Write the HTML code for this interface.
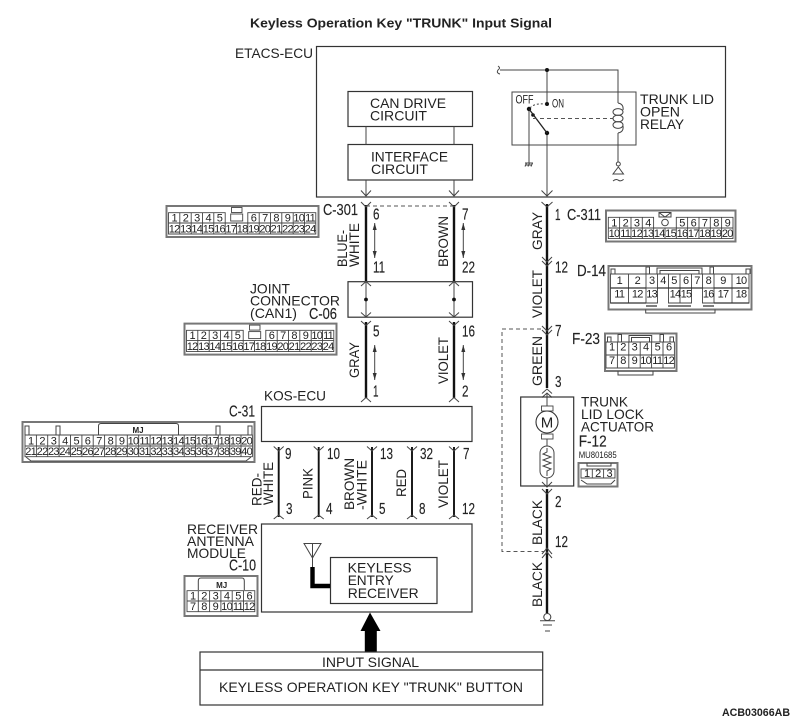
<!DOCTYPE html>
<html lang="en"><head><meta charset="utf-8"><title>Keyless Operation Key "TRUNK" Input Signal</title>
<style>
html,body{margin:0;padding:0;background:#fff}
svg{display:block}
text{font-family:"Liberation Sans",sans-serif;fill:#222}
.l{font-size:14px}
.p{font-size:15.5px;stroke:#222;stroke-width:.15}
.n{font-size:11px;text-anchor:middle;letter-spacing:-.7px}
.b{fill:none;stroke:#333;stroke-width:1.2}
.t{fill:none;stroke:#444;stroke-width:1}
.w{fill:none;stroke:#111;stroke-width:2.4}
.d{fill:none;stroke:#555;stroke-width:1;stroke-dasharray:4 3}
.o{fill:#fff;stroke:#777;stroke-width:2}
.g{fill:#fff;stroke:#444;stroke-width:.9}
</style></head><body>
<svg width="800" height="720" viewBox="0 0 800 720" xmlns="http://www.w3.org/2000/svg">
<defs><marker id="a" viewBox="0 0 8 8" refX="7" refY="4" markerWidth="8" markerHeight="8" orient="auto-start-reverse" markerUnits="userSpaceOnUse"><path d="M0 2L7 4L0 6z" fill="#333"/></marker></defs>
<text x="250" y="27.5" font-size="13" font-weight="700" textLength="302" lengthAdjust="spacingAndGlyphs">Keyless Operation Key "TRUNK" Input Signal</text>
<text class="l" x="235" y="58" textLength="78" lengthAdjust="spacingAndGlyphs">ETACS-ECU</text>

<!-- boxes -->
<rect class="b" x="316.5" y="46.5" width="409" height="150.5"/>
<rect class="b" x="348" y="91.5" width="124.5" height="35"/>
<rect class="b" x="348" y="144.5" width="124.5" height="35.5"/>
<path class="t" d="M366 126.5V144.5M454 126.5V144.5M366 180V196M454 180V196"/>
<g class="l">
<text x="370" y="108" textLength="76" lengthAdjust="spacingAndGlyphs">CAN DRIVE</text>
<text x="370" y="120.5" textLength="57" lengthAdjust="spacingAndGlyphs">CIRCUIT</text>
<text x="371" y="161.5" textLength="77" lengthAdjust="spacingAndGlyphs">INTERFACE</text>
<text x="371" y="174" textLength="57" lengthAdjust="spacingAndGlyphs">CIRCUIT</text>
</g>

<!-- relay -->
<path class="t" d="M500 70H618V103M618 133V162M547 70V104M547 133V196M529 109V163"/>
<path class="t" d="M498 66q3 2 0 4q-2 3 2 4"/>
<rect class="t" x="512" y="92" width="124" height="53"/>
<circle cx="547" cy="70" r="2" fill="#111"/><circle cx="547" cy="104" r="2" fill="#111"/><circle cx="529" cy="109" r="2.2" fill="#111"/><circle cx="547" cy="133" r="2.2" fill="#111"/><circle cx="533" cy="115" r="1.8" fill="#111"/>
<path d="M529 109L547 133" fill="none" stroke="#222" stroke-width="1.3"/>
<path d="M530 108q4-5 15-4" fill="none" stroke="#444" stroke-dasharray="2 2"/>
<path class="d" d="M533 118.5H613"/>
<ellipse class="t" cx="618" cy="112" rx="5" ry="3.4"/><ellipse class="t" cx="618" cy="118.5" rx="5" ry="3.4"/><ellipse class="t" cx="618" cy="125" rx="5" ry="3.4"/>
<path class="t" d="M618 103Q624 104 623 110M618 133Q624 132 623 126"/>
<path class="t" d="M525 163H533M526 165H532M526.5 163l-1.5 3.5M529.5 163l-1.5 3.5M532.5 163l-1.5 3.5"/>
<circle class="t" cx="618.3" cy="164" r="2"/>
<path class="t" d="M618.3 167L613 174H623.5ZM613 181q3-2.5 5.3-.8t5.3-.8"/>
<text x="515.5" y="103.3" font-size="12" textLength="18" lengthAdjust="spacingAndGlyphs">OFF</text>
<text x="552" y="107.7" font-size="12" textLength="12" lengthAdjust="spacingAndGlyphs">ON</text>
<g class="l">
<text x="640" y="104" textLength="74" lengthAdjust="spacingAndGlyphs">TRUNK LID</text>
<text x="640" y="116.7" textLength="40" lengthAdjust="spacingAndGlyphs">OPEN</text>
<text x="640" y="129" textLength="44" lengthAdjust="spacingAndGlyphs">RELAY</text>
</g>

<!-- joint & KOS & receiver -->
<rect class="b" x="348" y="281.7" width="124.5" height="35.5"/>
<path class="t" d="M366 282V317M454 282V317"/>
<circle cx="366" cy="299.5" r="1.9" fill="#111"/><circle cx="454" cy="299.5" r="1.9" fill="#111"/>
<rect class="b" x="261.5" y="406.5" width="210.5" height="35"/>
<rect class="b" x="261.5" y="524" width="210.5" height="88"/>
<rect class="b" x="330.5" y="557.5" width="106.5" height="46"/>
<path class="t" d="M304 543.5H321L312.5 558ZM312.5 543.5V567"/>
<path d="M312.5 567V586H330" fill="none" stroke="#000" stroke-width="4.4"/>
<g class="l">
<text x="347.7" y="572.7" textLength="64" lengthAdjust="spacingAndGlyphs">KEYLESS</text>
<text x="347.7" y="585" textLength="46" lengthAdjust="spacingAndGlyphs">ENTRY</text>
<text x="347.7" y="598" textLength="71" lengthAdjust="spacingAndGlyphs">RECEIVER</text>
<text x="250" y="293.3" textLength="40" lengthAdjust="spacingAndGlyphs">JOINT</text>
<text x="250" y="305.7" textLength="90" lengthAdjust="spacingAndGlyphs">CONNECTOR</text>
<text x="250" y="318" textLength="47" lengthAdjust="spacingAndGlyphs">(CAN1)</text>
<text x="264" y="400.7" textLength="62" lengthAdjust="spacingAndGlyphs">KOS-ECU</text>
<text x="187" y="534" textLength="71" lengthAdjust="spacingAndGlyphs">RECEIVER</text>
<text x="187" y="546" textLength="67" lengthAdjust="spacingAndGlyphs">ANTENNA</text>
<text x="187" y="558" textLength="59" lengthAdjust="spacingAndGlyphs">MODULE</text>
</g>

<!-- thick wires -->
<path class="w" d="M366 205V281M454 205V281M366 322V398M454 322V398M547 204V388M547 489V613"/>
<path d="M278.7 447V517M318.7 447V517M372 447V517M412 447V517M454 447V517" fill="none" stroke="#111" stroke-width="1.9"/>
<path class="t" d="M547 393V406M547 439V446M547 478V487"/>
<!-- forks -->
<path class="t" d="M361 190.5L366 196L371 190.5M449 190.5L454 196L459 190.5M541.5 190.5L547 196L552.5 190.5
M361 202L366 207L371 202M449 202L454 207L459 202M541.5 202L547 207L552.5 202
M361 286L366 281.5L371 286M449 286L454 281.5L459 286
M361 312.5L366 317L371 312.5M449 312.5L454 317L459 312.5
M361 321L366 325.5L371 321M449 321L454 325.5L459 321
M361 402L366 397.5L371 402M449 402L454 397.5L459 402
M542 257L547 262L552 257M542 261L547 266L552 261
M542 326L547 331L552 326M542 330L547 335L552 330
M542 393.5L547 389L552 393.5M542 397.5L547 393L552 397.5
M542 482L547 487L552 482M542 489L547 494L552 489
M542 554L547 548L552 554M542 558L547 552L552 558
M273.7 446.5L278.7 451L283.7 446.5M313.7 446.5L318.7 451L323.7 446.5M367 446.5L372 451L377 446.5M407 446.5L412 451L417 446.5M449 446.5L454 451L459 446.5
M273.7 519L278.7 515L283.7 519M313.7 519L318.7 515L323.7 519M367 519L372 515L377 519M407 519L412 515L417 519M449 519L454 515L459 519"/>
<path class="d" d="M366 206H454M541 329H502V551.5H544"/>
<!-- double arrows -->
<path class="t" d="M374.7 223V258" marker-start="url(#a)" marker-end="url(#a)"/><path class="t" d="M463.3 223V258" marker-start="url(#a)" marker-end="url(#a)"/><path class="t" d="M374.7 345V380" marker-start="url(#a)" marker-end="url(#a)"/><path class="t" d="M463.3 345V380" marker-start="url(#a)" marker-end="url(#a)"/>

<!-- wire names -->
<g class="l">
<text transform="translate(347,267) rotate(-90)" textLength="37" lengthAdjust="spacingAndGlyphs">BLUE-</text>
<text transform="translate(359,267) rotate(-90)" textLength="44" lengthAdjust="spacingAndGlyphs">WHITE</text>
<text transform="translate(448,267) rotate(-90)" textLength="51" lengthAdjust="spacingAndGlyphs">BROWN</text>
<text transform="translate(359,378) rotate(-90)" textLength="36" lengthAdjust="spacingAndGlyphs">GRAY</text>
<text transform="translate(448,384) rotate(-90)" textLength="47" lengthAdjust="spacingAndGlyphs">VIOLET</text>
<text transform="translate(542,250) rotate(-90)" textLength="38" lengthAdjust="spacingAndGlyphs">GRAY</text>
<text transform="translate(542,318) rotate(-90)" textLength="48" lengthAdjust="spacingAndGlyphs">VIOLET</text>
<text transform="translate(542,386) rotate(-90)" textLength="50" lengthAdjust="spacingAndGlyphs">GREEN</text>
<text transform="translate(542,545) rotate(-90)" textLength="45" lengthAdjust="spacingAndGlyphs">BLACK</text>
<text transform="translate(542,607) rotate(-90)" textLength="45" lengthAdjust="spacingAndGlyphs">BLACK</text>
<text transform="translate(261.7,506) rotate(-90)" textLength="33" lengthAdjust="spacingAndGlyphs">RED-</text>
<text transform="translate(273,505) rotate(-90)" textLength="43" lengthAdjust="spacingAndGlyphs">WHITE</text>
<text transform="translate(312.7,499) rotate(-90)" textLength="31" lengthAdjust="spacingAndGlyphs">PINK</text>
<text transform="translate(354,510) rotate(-90)" textLength="52" lengthAdjust="spacingAndGlyphs">BROWN</text>
<text transform="translate(366.7,510) rotate(-90)" textLength="50" lengthAdjust="spacingAndGlyphs">-WHITE</text>
<text transform="translate(406,497) rotate(-90)" textLength="28" lengthAdjust="spacingAndGlyphs">RED</text>
<text transform="translate(448,508) rotate(-90)" textLength="48" lengthAdjust="spacingAndGlyphs">VIOLET</text>
</g>

<!-- pin numbers and connector names -->
<g class="p">
<text x="373" y="219.5" textLength="6.5" lengthAdjust="spacingAndGlyphs">6</text>
<text x="462" y="219.5" textLength="6.5" lengthAdjust="spacingAndGlyphs">7</text>
<text x="373" y="272.7" textLength="12" lengthAdjust="spacingAndGlyphs">11</text>
<text x="462" y="272.7" textLength="13" lengthAdjust="spacingAndGlyphs">22</text>
<text x="373" y="336.7" textLength="6.5" lengthAdjust="spacingAndGlyphs">5</text>
<text x="462" y="336.7" textLength="13" lengthAdjust="spacingAndGlyphs">16</text>
<text x="373" y="396.7" textLength="5.5" lengthAdjust="spacingAndGlyphs">1</text>
<text x="462" y="396.7" textLength="6.5" lengthAdjust="spacingAndGlyphs">2</text>
<text x="555" y="220" textLength="5.5" lengthAdjust="spacingAndGlyphs">1</text>
<text x="555" y="272.7" textLength="13" lengthAdjust="spacingAndGlyphs">12</text>
<text x="555" y="336" textLength="6.5" lengthAdjust="spacingAndGlyphs">7</text>
<text x="555" y="387" textLength="6.5" lengthAdjust="spacingAndGlyphs">3</text>
<text x="555" y="507" textLength="6.5" lengthAdjust="spacingAndGlyphs">2</text>
<text x="555" y="547" textLength="13" lengthAdjust="spacingAndGlyphs">12</text>
<text x="285" y="459" textLength="6.5" lengthAdjust="spacingAndGlyphs">9</text>
<text x="286" y="514" textLength="6.5" lengthAdjust="spacingAndGlyphs">3</text>
<text x="327" y="459" textLength="13" lengthAdjust="spacingAndGlyphs">10</text>
<text x="326" y="514" textLength="6.5" lengthAdjust="spacingAndGlyphs">4</text>
<text x="380" y="459" textLength="13" lengthAdjust="spacingAndGlyphs">13</text>
<text x="379" y="514" textLength="6.5" lengthAdjust="spacingAndGlyphs">5</text>
<text x="420" y="459" textLength="13" lengthAdjust="spacingAndGlyphs">32</text>
<text x="419" y="514" textLength="6.5" lengthAdjust="spacingAndGlyphs">8</text>
<text x="463" y="459" textLength="6.5" lengthAdjust="spacingAndGlyphs">7</text>
<text x="462" y="514" textLength="13" lengthAdjust="spacingAndGlyphs">12</text>
<text x="323" y="215" textLength="35" lengthAdjust="spacingAndGlyphs">C-301</text>
<text x="309" y="319" textLength="28" lengthAdjust="spacingAndGlyphs">C-06</text>
<text x="229" y="416.7" textLength="26" lengthAdjust="spacingAndGlyphs">C-31</text>
<text x="229" y="570.7" textLength="27" lengthAdjust="spacingAndGlyphs">C-10</text>
<text x="567" y="220" textLength="34" lengthAdjust="spacingAndGlyphs">C-311</text>
<text x="577" y="276" textLength="29" lengthAdjust="spacingAndGlyphs">D-14</text>
<text x="572" y="344" textLength="28" lengthAdjust="spacingAndGlyphs">F-23</text>
<text x="578.7" y="446.7" textLength="28" lengthAdjust="spacingAndGlyphs">F-12</text>
</g>

<!-- actuator -->
<rect class="b" x="520.7" y="397" width="53" height="89"/>
<rect class="g" x="541.5" y="406" width="11.5" height="5"/><rect class="g" x="541.5" y="434" width="11.5" height="5"/>
<circle cx="547" cy="422" r="11" fill="#fff" stroke="#333" stroke-width="1.1"/>
<text x="547" y="427.5" font-size="15" text-anchor="middle">M</text>
<rect class="t" x="540" y="446" width="14" height="32" rx="7"/>
<path class="t" d="M547 448V452L543 454L551 457L543 460L551 463L543 466L551 469L547 471V476"/>
<g class="l">
<text x="581" y="406.7" textLength="47" lengthAdjust="spacingAndGlyphs">TRUNK</text>
<text x="581" y="419" textLength="63" lengthAdjust="spacingAndGlyphs">LID LOCK</text>
<text x="581" y="431.7" textLength="73" lengthAdjust="spacingAndGlyphs">ACTUATOR</text>
</g>
<text x="578.7" y="458" font-size="9" textLength="38" lengthAdjust="spacingAndGlyphs">MU801685</text>
<!-- ground -->
<path class="t" d="M547.3 613.5a3.5 3.5 0 1 1 -.01 0M540 620.7H555M543 625H552M545 631H550"/>

<!-- input -->
<path d="M370 612.5L380.5 631H376.8V652H364.8V631H360.5Z" fill="#000"/>
<rect class="b" x="200" y="652" width="342.7" height="53"/>
<path class="b" d="M200 670H542.7"/>
<text class="l" x="322" y="667" textLength="97" lengthAdjust="spacingAndGlyphs">INPUT SIGNAL</text>
<text class="l" x="219" y="692" textLength="304" lengthAdjust="spacingAndGlyphs">KEYLESS OPERATION KEY "TRUNK" BUTTON</text>
<text x="722" y="716" font-size="11" font-weight="700" textLength="68" lengthAdjust="spacingAndGlyphs">ACB03066AB</text>

<!-- C-301 -->
<g>
<rect class="o" x="166.5" y="206" width="152" height="31"/>
<path class="g" d="M168.5 212.7H225.2V223H168.5ZM168.5 223H315.8V234H168.5ZM247.8 212.7H315.8V223H247.8ZM179.8 212.7V234M191.2 212.7V234M202.5 212.7V234M213.8 212.7V234M225.2 223V234M236.5 223V234M247.8 223V234M259.2 212.7V234M270.5 212.7V234M281.8 212.7V234M293.2 212.7V234M304.5 212.7V234"/>
<rect class="g" x="230.7" y="214" width="12" height="7"/><rect class="g" x="231.5" y="207.5" width="10.5" height="5"/>
<g class="n">
<text x="174.2" y="221.5">1</text><text x="185.5" y="221.5">2</text><text x="196.8" y="221.5">3</text><text x="208.2" y="221.5">4</text><text x="219.5" y="221.5">5</text><text x="253.5" y="221.5">6</text><text x="264.8" y="221.5">7</text><text x="276.1" y="221.5">8</text><text x="287.5" y="221.5">9</text><text x="298.8" y="221.5">10</text><text x="310.1" y="221.5">11</text>
<text x="174.2" y="232.5">12</text><text x="185.5" y="232.5">13</text><text x="196.8" y="232.5">14</text><text x="208.2" y="232.5">15</text><text x="219.5" y="232.5">16</text><text x="230.8" y="232.5">17</text><text x="242.2" y="232.5">18</text><text x="253.5" y="232.5">19</text><text x="264.8" y="232.5">20</text><text x="276.1" y="232.5">21</text><text x="287.5" y="232.5">22</text><text x="298.8" y="232.5">23</text><text x="310.1" y="232.5">24</text>
</g></g>
<!-- C-06 -->
<g transform="translate(18,117.6)">
<rect class="o" x="166.5" y="206" width="152" height="31"/>
<path class="g" d="M168.5 212.7H225.2V223H168.5ZM168.5 223H315.8V234H168.5ZM247.8 212.7H315.8V223H247.8ZM179.8 212.7V234M191.2 212.7V234M202.5 212.7V234M213.8 212.7V234M225.2 223V234M236.5 223V234M247.8 223V234M259.2 212.7V234M270.5 212.7V234M281.8 212.7V234M293.2 212.7V234M304.5 212.7V234"/>
<rect class="g" x="230.7" y="214" width="12" height="7"/><rect class="g" x="231.5" y="207.5" width="10.5" height="5"/>
<g class="n">
<text x="174.2" y="221.5">1</text><text x="185.5" y="221.5">2</text><text x="196.8" y="221.5">3</text><text x="208.2" y="221.5">4</text><text x="219.5" y="221.5">5</text><text x="253.5" y="221.5">6</text><text x="264.8" y="221.5">7</text><text x="276.1" y="221.5">8</text><text x="287.5" y="221.5">9</text><text x="298.8" y="221.5">10</text><text x="310.1" y="221.5">11</text>
<text x="174.2" y="232.5">12</text><text x="185.5" y="232.5">13</text><text x="196.8" y="232.5">14</text><text x="208.2" y="232.5">15</text><text x="219.5" y="232.5">16</text><text x="230.8" y="232.5">17</text><text x="242.2" y="232.5">18</text><text x="253.5" y="232.5">19</text><text x="264.8" y="232.5">20</text><text x="276.1" y="232.5">21</text><text x="287.5" y="232.5">22</text><text x="298.8" y="232.5">23</text><text x="310.1" y="232.5">24</text>
</g></g>
<!-- C-311 -->
<rect class="o" x="606" y="210.5" width="129.5" height="31"/>
<path class="g" d="M608.3 217.3H653.6V228H608.3ZM676.3 217.3H733V228H676.3ZM608.3 228H733V238.6H608.3ZM619.6 217.3V238.6M631 217.3V238.6M642.3 217.3V238.6M653.6 228V238.6M665 228V238.6M676.3 228V238.6M687.6 217.3V238.6M699 217.3V238.6M710.3 217.3V238.6M721.6 217.3V238.6"/>
<circle class="t" cx="665" cy="222.5" r="3.3"/><path class="t" d="M659 212.5H671V217H659ZM659 212.5L665 217L671 212.5"/>
<g class="n">
<text x="614" y="226.3">1</text><text x="625.3" y="226.3">2</text><text x="636.6" y="226.3">3</text><text x="648" y="226.3">4</text><text x="682" y="226.3">5</text><text x="693.3" y="226.3">6</text><text x="704.6" y="226.3">7</text><text x="715.9" y="226.3">8</text><text x="727.3" y="226.3">9</text>
<text x="614" y="237">10</text><text x="625.3" y="237">11</text><text x="636.6" y="237">12</text><text x="648" y="237">13</text><text x="659.3" y="237">14</text><text x="670.6" y="237">15</text><text x="682" y="237">16</text><text x="693.3" y="237">17</text><text x="704.6" y="237">18</text><text x="715.9" y="237">19</text><text x="727.3" y="237">20</text>
</g>
<!-- D-14 -->
<rect class="o" x="608.5" y="266" width="143" height="43.5"/>
<path class="t" d="M645.7 309.5V313H715V309.5M657 274V268H702V274M660 274V270.5H699V274M611 274V269H615V274M746 274V269H750V274M646 274V267H649.5V274M710 274V267H713.5V274"/>
<path class="g" d="M610.5 274H749V288H610.5ZM610.5 288H628.5V303H610.5ZM628.5 288H646V303H628.5ZM646 288H657.5V303H646ZM668.5 288H680V303H668.5ZM680 288H691.5V303H680ZM702.5 288H714V303H702.5ZM714 288H732V303H714ZM732 288H749V303H732ZM628.5 274V288M646 274V288M657.5 274V288M668.5 274V288M680 274V288M691.5 274V288M702.5 274V288M714 274V288M732 274V288"/>
<path d="M610.5 288H646M714 288H749M657.5 288H702.5M610.5 303H646M714 303H749M646 306H657M668 306H691M703 306H714" fill="none" stroke="#333" stroke-width="1.3"/>
<g class="n">
<text x="619.3" y="284">1</text><text x="637.3" y="284">2</text><text x="651.7" y="284">3</text><text x="663" y="284">4</text><text x="674" y="284">5</text><text x="685.7" y="284">6</text><text x="697" y="284">7</text><text x="708.3" y="284">8</text><text x="723" y="284">9</text><text x="741" y="284">10</text>
<text x="619.3" y="297.5">11</text><text x="637.3" y="297.5">12</text><text x="651.7" y="297.5">13</text><text x="675" y="297.5">14</text><text x="686" y="297.5">15</text><text x="708.3" y="297.5">16</text><text x="723" y="297.5">17</text><text x="741" y="297.5">18</text>
</g>
<!-- F-23 -->
<rect class="o" x="605" y="333.5" width="71.5" height="37.5"/>
<path class="t" d="M618 371V375H653V371M629 342V335.5H651.7V342M631.5 342V337.5H649.5V342M607.5 342V337H611V342M670 342V337H673.5V342M618 342V334.5H621.5V342M660 342V334.5H663.5V342"/>
<path class="g" d="M606 342H674.4V368H606ZM606 355H674.4M617.4 342V368M628.8 342V368M640.2 342V368M651.6 342V368M663 342V368"/>
<g class="n">
<text x="611.7" y="350.7">1</text><text x="623" y="350.7">2</text><text x="634.3" y="350.7">3</text><text x="645.7" y="350.7">4</text><text x="657.3" y="350.7">5</text><text x="668.7" y="350.7">6</text>
<text x="611.7" y="364">7</text><text x="623" y="364">8</text><text x="634.3" y="364">9</text><text x="645.7" y="364">10</text><text x="657.3" y="364">11</text><text x="668.7" y="364">12</text>
</g>
<!-- F-12 -->
<rect class="o" x="578.5" y="463" width="39" height="23.5"/>
<path class="g" d="M581 469H615V478H581ZM592.3 469V478M603.6 469V478"/>
<path class="t" d="M587 463V466H611V463M581 480L587 484H611L615 480"/>
<g class="n"><text x="586.7" y="477">1</text><text x="597.8" y="477">2</text><text x="609.2" y="477">3</text></g>
<!-- C-31 -->
<rect class="o" x="22.5" y="422" width="232" height="40"/>
<path class="t" d="M98.5 435V426Q98.5 423.5 101 423.5H176Q178.5 423.5 178.5 426V435M25 435V426H29V435M56 435V426H60V435M216 435V426H220V435M248 435V426H252V435M26 457L31 461H246L251 457"/>
<path class="g" d="M25 435H252.4V456.7H25ZM25 446H252.4M36.4 435V456.7M47.7 435V456.7M59.1 435V456.7M70.5 435V456.7M81.9 435V456.7M93.2 435V456.7M104.6 435V456.7M116 435V456.7M127.3 435V456.7M138.7 435V456.7M150.1 435V456.7M161.4 435V456.7M172.8 435V456.7M184.2 435V456.7M195.6 435V456.7M206.9 435V456.7M218.3 435V456.7M229.7 435V456.7M241 435V456.7"/>
<text x="138" y="433" font-size="8" font-weight="700" text-anchor="middle">MJ</text>
<g class="n">
<text x="30.7" y="444.3">1</text><text x="42.1" y="444.3">2</text><text x="53.4" y="444.3">3</text><text x="64.8" y="444.3">4</text><text x="76.2" y="444.3">5</text><text x="87.5" y="444.3">6</text><text x="98.9" y="444.3">7</text><text x="110.3" y="444.3">8</text><text x="121.6" y="444.3">9</text><text x="133" y="444.3">10</text><text x="144.4" y="444.3">11</text><text x="155.8" y="444.3">12</text><text x="167.1" y="444.3">13</text><text x="178.5" y="444.3">14</text><text x="189.9" y="444.3">15</text><text x="201.2" y="444.3">16</text><text x="212.6" y="444.3">17</text><text x="224" y="444.3">18</text><text x="235.3" y="444.3">19</text><text x="246.7" y="444.3">20</text>
<text x="30.7" y="455">21</text><text x="42.1" y="455">22</text><text x="53.4" y="455">23</text><text x="64.8" y="455">24</text><text x="76.2" y="455">25</text><text x="87.5" y="455">26</text><text x="98.9" y="455">27</text><text x="110.3" y="455">28</text><text x="121.6" y="455">29</text><text x="133" y="455">30</text><text x="144.4" y="455">31</text><text x="155.8" y="455">32</text><text x="167.1" y="455">33</text><text x="178.5" y="455">34</text><text x="189.9" y="455">35</text><text x="201.2" y="455">36</text><text x="212.6" y="455">37</text><text x="224" y="455">38</text><text x="235.3" y="455">39</text><text x="246.7" y="455">40</text>
</g>
<!-- C-10 -->
<rect class="o" x="184.5" y="576" width="73" height="40"/>
<path class="t" d="M198.3 590V581Q198.3 578 201 578H242Q244.3 578 244.3 581V590"/>
<path class="g" d="M187 590.7H254.8V611.7H187ZM187 601H254.8M198.3 590.7V611.7M209.6 590.7V611.7M220.9 590.7V611.7M232.2 590.7V611.7M243.5 590.7V611.7"/>
<text x="221.7" y="588" font-size="8" font-weight="700" text-anchor="middle">MJ</text>
<g class="n">
<text x="192.7" y="599.5">1</text><text x="204" y="599.5">2</text><text x="215.3" y="599.5">3</text><text x="226.6" y="599.5">4</text><text x="237.9" y="599.5">5</text><text x="249.2" y="599.5">6</text>
<text x="192.7" y="610">7</text><text x="204" y="610">8</text><text x="215.3" y="610">9</text><text x="226.6" y="610">10</text><text x="237.9" y="610">11</text><text x="249.2" y="610">12</text>
</g>
</svg>
</body></html>
